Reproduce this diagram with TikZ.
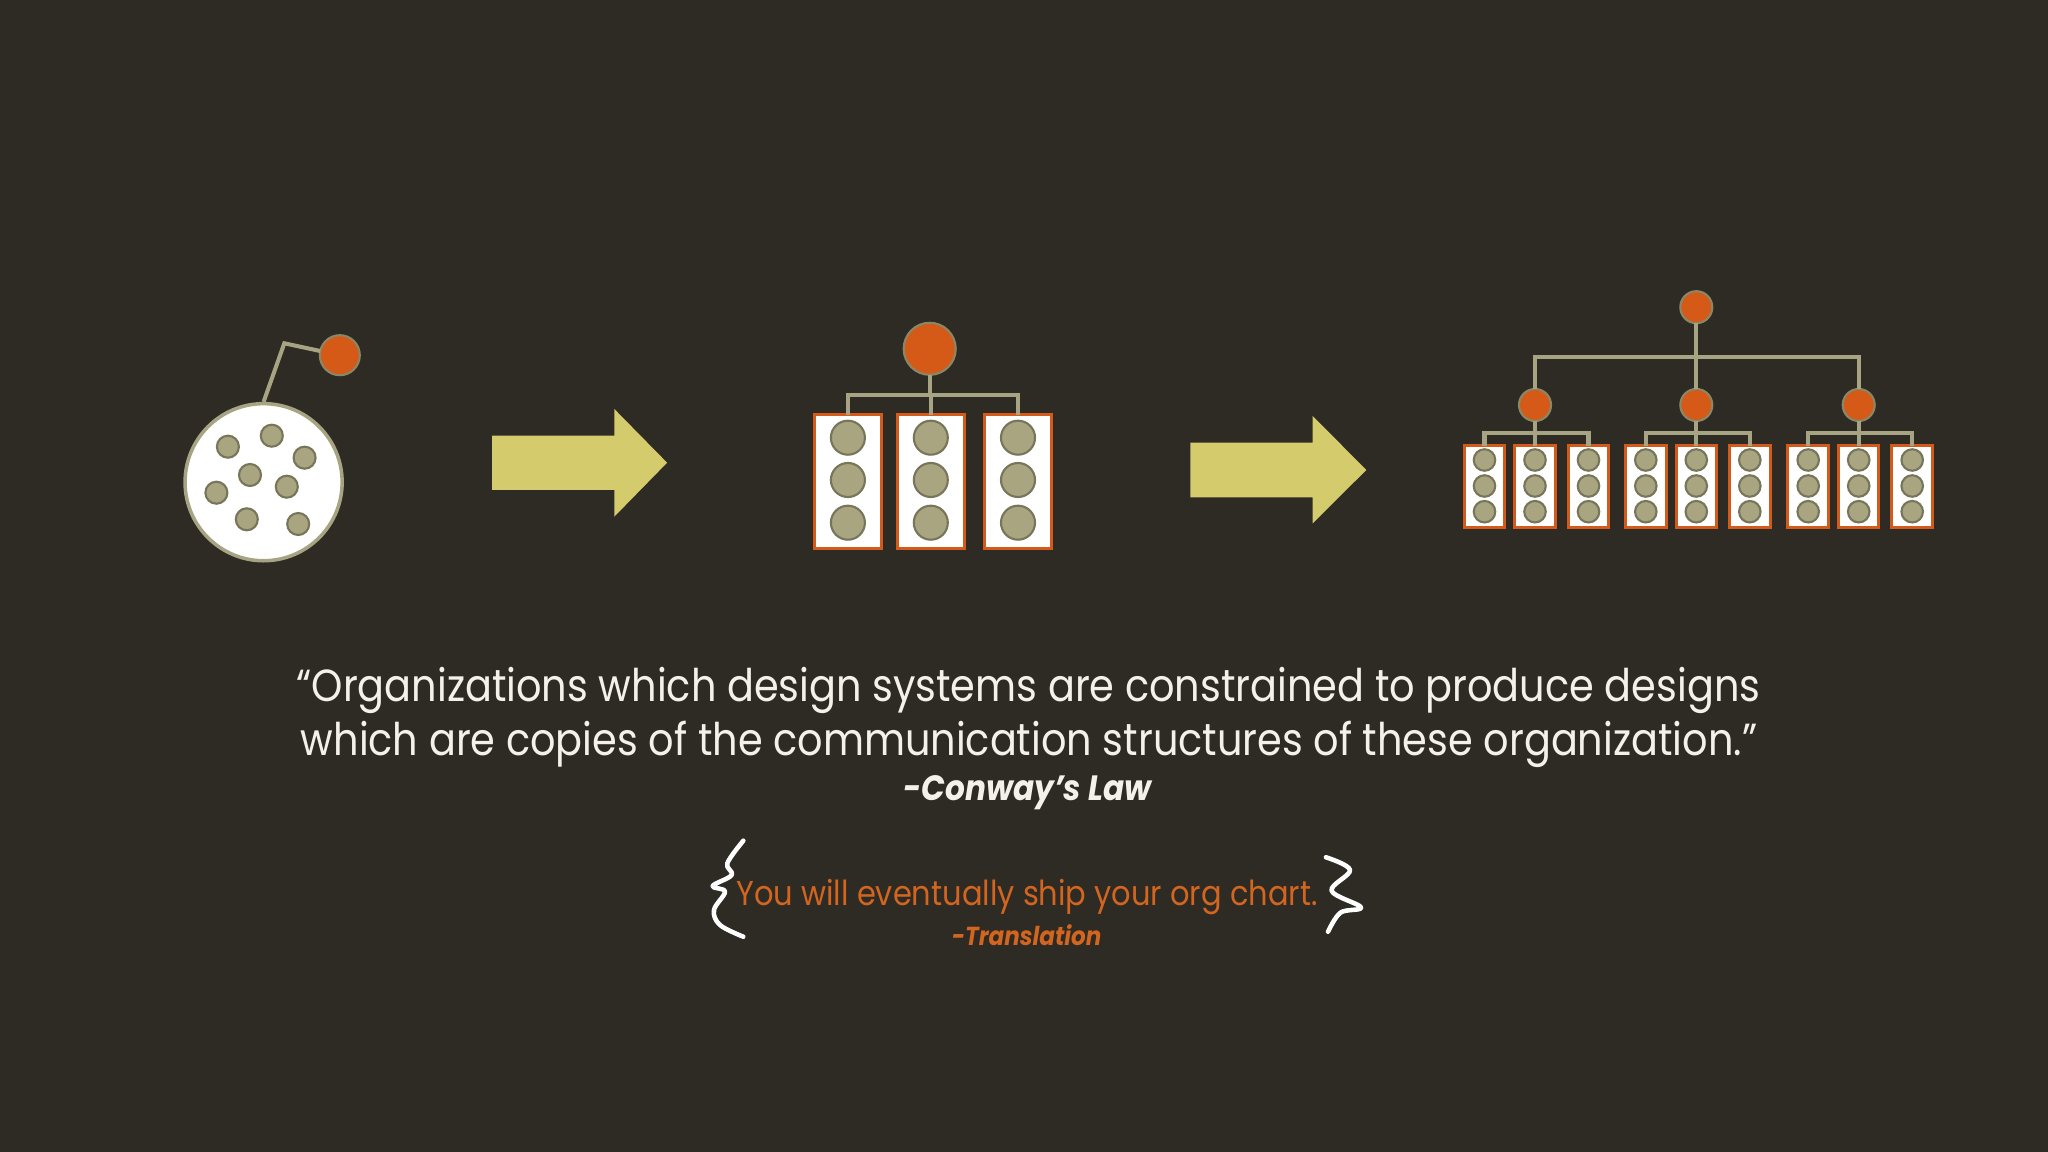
\documentclass[tikz,border=0pt]{standalone}
\usepackage{fontspec}
\setmainfont{Poppins}
\newfontfamily\quotefont[FakeStretch=0.885]{Poppins}
\newfontfamily\notefont[FakeStretch=0.885]{Poppins}
\definecolor{bgc}{HTML}{2E2A24}
\definecolor{leadc}{HTML}{D55A17}
\definecolor{leadrim}{HTML}{8A8766}
\definecolor{linkc}{HTML}{A7A483}
\definecolor{memc}{HTML}{A8A580}
\definecolor{memrim}{HTML}{77765A}
\definecolor{arrowc}{HTML}{D4CB6C}
\definecolor{teamrim}{HTML}{D45A1B}
\definecolor{quotec}{HTML}{F4F1EA}
\definecolor{notec}{HTML}{D2651F}
\tikzset{
	lead/.style={circle,fill=leadc,draw=leadrim,line width=0.6pt,inner sep=0pt,outer sep=0pt},
	member/.style={circle,fill=memc,draw=memrim,line width=0.6pt,inner sep=0pt,outer sep=0pt},
	team/.style={rectangle,fill=white,draw=teamrim,line width=0.85pt,inner sep=0pt,outer sep=0pt},
	link/.style={draw=linkc,line width=1.15pt},
	brace/.style={draw=white,line width=1.3pt,line cap=round,line join=round}
}

\begin{document}
\begin{tikzpicture}[x={(0.01cm,0)},y={(0,-0.01cm)}]
        \useasboundingbox (0,0) rectangle (2048,1152);
        \fill[bgc] (0,0) rectangle (2048,1152);
        % one big team
        \node[circle,fill=white,draw=linkc,line width=1pt,inner sep=0pt,minimum size=1.57cm] (blob) at (263.6,482.2) {};
        \node[member,minimum size=0.22cm] (m_1) at (227.9,446.7) {};
        \node[member,minimum size=0.22cm] (m_2) at (271.8,435.7) {};
        \node[member,minimum size=0.22cm] (m_3) at (304.6,457.7) {};
        \node[member,minimum size=0.22cm] (m_4) at (250,475) {};
        \node[member,minimum size=0.22cm] (m_5) at (286.8,486.7) {};
        \node[member,minimum size=0.22cm] (m_6) at (216.4,492.7) {};
        \node[member,minimum size=0.22cm] (m_7) at (246.8,519.3) {};
        \node[member,minimum size=0.22cm] (m_8) at (298.2,524) {};
        \node[lead,minimum size=0.4cm] (boss) at (339.8,355.2) {};
        \coordinate (kink) at (284.3,343.3);
        \draw[link] (blob.north) -- (kink) -- (boss);
        \fill[arrowc] (492,435.7) -- (614.3,435.7) -- (614.3,409) -- (667.1,462.7) -- (614.3,516.7) -- (614.3,490) -- (492,490) -- cycle;
        % three teams
        \node[lead,minimum size=0.52cm] (head) at (929.7,348.8) {};
        \coordinate (bus) at (929.7,395);
        \draw[link] (head) -- (bus);
        \foreach \k/\tx in {1/847.9,2/930.8,3/1018} {
            \node[team,minimum width=0.675cm,minimum height=1.34cm] (t_\k) at (\tx,481.7) {};
            \draw[link] (bus) -| (t_\k.north);
            \foreach \j/\ty in {1/437.7,2/480,3/522.7}
                \node[member,minimum size=0.34cm] (t_\k_\j) at (\tx,\ty) {};
        }
        \fill[arrowc] (1190.3,442.7) -- (1312.7,442.7) -- (1312.7,416) -- (1366.3,470) -- (1312.7,523.3) -- (1312.7,497.3) -- (1190.3,497.3) -- cycle;
        % teams of teams
        \node[lead,minimum size=0.32cm] (top) at (1696.3,307.2) {};
        \coordinate (spine) at (1696.3,356.7);
        \draw[link] (top) -- (spine);
        \foreach \g/\gx in {a/1535,b/1696.3,c/1858.7} {
            \node[lead,minimum size=0.32cm] (\g) at (\gx,405) {};
            \draw[link] (spine) -| (\g);
            \coordinate (\g_bus) at (\gx,433.3);
            \draw[link] (\g) -- (\g_bus);
            \foreach \k/\dx in {1/-50.5,2/0,3/53.5} {
                \node[team,minimum width=0.405cm,minimum height=0.82cm] (\g_\k) at (\gx+\dx,486.8) {};
                \draw[link] (\g_bus) -| (\g_\k.north);
                \foreach \j/\ty in {1/460,2/486,3/511.7}
                    \node[member,minimum size=0.215cm] (\g_\k_\j) at (\gx+\dx,\ty) {};
            }
        }
        % quote
        \node[anchor=base,text=quotec,inner sep=0pt,font=\quotefont\fontsize{12.8}{15}\selectfont] (quote_1) at (1028.5,701.7) {“Organizations which design systems are constrained to produce designs};
        \node[anchor=base,text=quotec,inner sep=0pt,font=\quotefont\fontsize{12.8}{15}\selectfont] (quote_2) at (1029,755) {which are copies of the communication structures of these organization.”};
        \node[anchor=base,text=quotec,inner sep=0pt,font=\quotefont\bfseries\itshape\fontsize{10}{12}\selectfont] (law) at (1027.5,800) {-Conway’s Law};
        \node[anchor=base,text=notec,inner sep=0pt,font=\notefont\fontsize{9.8}{11}\selectfont] (ship) at (1027,905) {You will eventually ship your org chart.};
        \node[anchor=base,text=notec,inner sep=0pt,font=\notefont\bfseries\itshape\fontsize{7.4}{8}\selectfont] (transl) at (1026.6,945) {-Translation};
        \draw[brace] plot[smooth,tension=0.6] coordinates {(743.3,840.7) (727.3,863.3) (731.7,875) (712.7,886) (725,891.7) (714,910) (720,925) (743.3,936.7)};
        \draw[brace] plot[smooth,tension=0.6] coordinates {(1325.9,857.3) (1350,870) (1331.6,890.7) (1361,907.3) (1340.4,912.7) (1328,931.7)};
\end{tikzpicture}
\end{document}
